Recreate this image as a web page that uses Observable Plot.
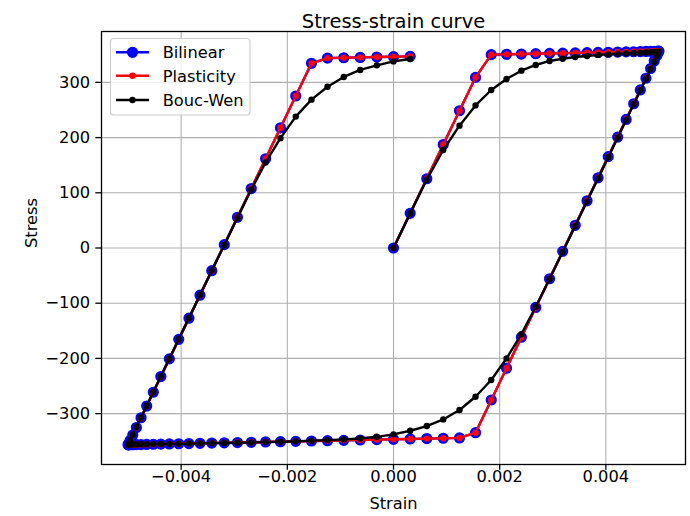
<!DOCTYPE html>
<html><head><meta charset="utf-8">
<script src="https://cdn.jsdelivr.net/npm/d3@7"></script>
<script src="https://cdn.jsdelivr.net/npm/@observablehq/plot@0.6"></script>
<style>
body{margin:0;background:#fff;}
#wrap{position:relative;width:690px;height:516px;font-family:"DejaVu Sans";}
#legend{position:absolute;left:0;top:0;pointer-events:none;}
</style></head><body><div id="wrap"></div>
<script>
const strain = [0, 0.000314, 0.000627, 0.000937, 0.001243, 0.001545, 0.001841, 0.002129, 0.002409, 0.002679, 0.002939, 0.003187, 0.003423, 0.003645, 0.003853, 0.004045, 0.004222, 0.004382, 0.004524, 0.004649, 0.004755, 0.004843, 0.004911, 0.004961, 0.004990, 0.005000,
 0.004990, 0.004961, 0.004911, 0.004843, 0.004755, 0.004649, 0.004524, 0.004382, 0.004222, 0.004045, 0.003853, 0.003645, 0.003423, 0.003187, 0.002939, 0.002679, 0.002409, 0.002129, 0.001841, 0.001545, 0.001243, 0.000937, 0.000627, 0.000314, 0,
 -0.000314, -0.000627, -0.000937, -0.001243, -0.001545, -0.001841, -0.002129, -0.002409, -0.002679, -0.002939, -0.003187, -0.003423, -0.003645, -0.003853, -0.004045, -0.004222, -0.004382, -0.004524, -0.004649, -0.004755, -0.004843, -0.004911, -0.004961, -0.004990, -0.005000,
 -0.004990, -0.004961, -0.004911, -0.004843, -0.004755, -0.004649, -0.004524, -0.004382, -0.004222, -0.004045, -0.003853, -0.003645, -0.003423, -0.003187, -0.002939, -0.002679, -0.002409, -0.002129, -0.001841, -0.001545, -0.001243, -0.000937, -0.000627, -0.000314, 0,
 0.000314];

const bilinear = [0, 62.8, 125.4, 187.4, 248.6, 309.0, 350.2, 350.8, 351.3, 351.9, 352.4, 352.9, 353.3, 353.8, 354.2, 354.6, 354.9, 355.3, 355.5, 355.8, 356.0, 356.2, 356.3, 356.4, 356.5, 356.5,
 354.5, 348.7, 338.7, 325.1, 307.5, 286.3, 261.3, 232.9, 200.9, 165.5, 127.1, 85.5, 41.1, -6.1, -55.7, -107.7, -161.7, -217.7, -275.3, -334.5, -344.0, -344.6, -345.2, -345.9, -346.5,
 -347.1, -347.8, -348.4, -349.0, -349.6, -350.2, -350.8, -351.3, -351.9, -352.4, -352.9, -353.3, -353.8, -354.2, -354.6, -354.9, -355.3, -355.5, -355.8, -356.0, -356.2, -356.3, -356.4, -356.5, -356.5,
 -354.5, -348.7, -338.7, -325.1, -307.5, -286.3, -261.3, -232.9, -200.9, -165.5, -127.1, -85.5, -41.1, 6.1, 55.7, 107.7, 161.7, 217.7, 275.3, 334.5, 344.0, 344.6, 345.2, 345.9, 346.5,
 347.1];

const plasticity = [0, 62.8, 125.4, 187.4, 248.6, 309.0, 350.2, 350.8, 351.3, 351.9, 352.4, 352.9, 353.3, 353.8, 354.2, 354.6, 354.9, 355.3, 355.5, 355.8, 356.0, 356.2, 356.3, 356.4, 356.5, 356.5,
 354.5, 348.7, 338.7, 325.1, 307.5, 286.3, 261.3, 232.9, 200.9, 165.5, 127.1, 85.5, 41.1, -6.1, -55.7, -107.7, -161.7, -217.7, -275.3, -334.5, -344.0, -344.6, -345.2, -345.9, -346.5,
 -347.1, -347.8, -348.4, -349.0, -349.6, -350.2, -350.8, -351.3, -351.9, -352.4, -352.9, -353.3, -353.8, -354.2, -354.6, -354.9, -355.3, -355.5, -355.8, -356.0, -356.2, -356.3, -356.4, -356.5, -356.5,
 -354.5, -348.7, -338.7, -325.1, -307.5, -286.3, -261.3, -232.9, -200.9, -165.5, -127.1, -85.5, -41.1, 6.1, 55.7, 107.7, 161.7, 217.7, 275.3, 334.5, 344.0, 344.6, 345.2, 345.9, 346.5,
 347.1];

const boucWen = [0, 62.7, 124.0, 177.5, 221.6, 258.3, 286.2, 306.0, 321.2, 331.5, 338.8, 342.8, 346.0, 347.8, 349.8, 350.7, 351.9, 352.6, 353.2, 353.7, 354.2, 354.6, 354.9, 355.2, 355.4, 355.5,
 353.5, 347.7, 337.7, 324.1, 306.5, 285.3, 260.3, 231.9, 199.9, 164.5, 126.1, 84.5, 40.1, -7.0, -56.0, -106.5, -156.0, -200.0, -239.0, -269.4, -293.5, -310.5, -322.5, -331.0, -337.5,
 -342.0, -345.0, -346.7, -348.0, -349.2, -350.2, -351.0, -351.6, -352.2, -352.7, -353.1, -353.5, -353.9, -354.2, -354.5, -354.8, -355.0, -355.2, -355.4, -355.6, -355.7, -355.8, -355.9, -356.0, -356.0,
 -354.0, -348.2, -338.2, -324.6, -307.0, -285.8, -260.8, -232.4, -200.4, -165.0, -126.6, -85.0, -40.6, 5.5, 55.0, 106.0, 155.0, 199.0, 238.0, 268.7, 292.0, 309.8, 322.5, 330.8, 338.0,
 342.4];

const xTicks = [-0.004, -0.002, 0, 0.002, 0.004];
const yTicks = [-300, -200, -100, 0, 100, 200, 300];
const seriesNames = ["Bilinear", "Plasticity", "Bouc-Wen"];
const seriesColors = ["#0000ff", "#ff0000", "#000000"];
const titleText = "Stress-strain curve";
const xLabel = "Strain";
const yLabel = "Stress";

const rows = strain.map((s, i) => ({strain: s, bilinear: bilinear[i], plasticity: plasticity[i], boucWen: boucWen[i]}));
const fmtX = d3.format(".3f");
const fmtY = d3.format("d");

const gridStyle = {stroke: "#b0b0b0", strokeOpacity: 1, strokeWidth: 1.1};
const lineStyle = {strokeWidth: 2.4, strokeLinejoin: "round"};

const chart = Plot.plot({
  width: 690, height: 516,
  marginLeft: 101, marginRight: 5, marginTop: 31, marginBottom: 52,
  style: {fontFamily: "DejaVu Sans", fontSize: "16.25px", background: "#fff", color: "#000", overflow: "visible"},
  x: {domain: [-0.0055, 0.0055]},
  y: {domain: [-392.15, 392.15]},
  marks: [
    Plot.gridX(xTicks, gridStyle),
    Plot.gridY(yTicks, gridStyle),
    Plot.line(rows, {x: "strain", y: "bilinear", stroke: seriesColors[0], ...lineStyle}),
    Plot.dot(rows, {x: "strain", y: "bilinear", r: 4.8, fill: seriesColors[0], stroke: seriesColors[0], strokeWidth: 1.6}),
    Plot.line(rows, {x: "strain", y: "plasticity", stroke: seriesColors[1], ...lineStyle}),
    Plot.dot(rows, {x: "strain", y: "plasticity", r: 2.4, fill: seriesColors[1], stroke: seriesColors[1], strokeWidth: 1.6}),
    Plot.line(rows, {x: "strain", y: "boucWen", stroke: seriesColors[2], ...lineStyle}),
    Plot.dot(rows, {x: "strain", y: "boucWen", r: 2.4, fill: seriesColors[2], stroke: seriesColors[2], strokeWidth: 1.6}),
    Plot.frame({stroke: "#000", strokeWidth: 1.3}),
    Plot.axisX(xTicks, {tickSize: 5.7, tickPadding: 0, tickFormat: fmtX, label: null, strokeWidth: 1.3, fontSize: 16.25}),
    Plot.axisY(yTicks, {tickSize: 5.7, tickPadding: 5.7, tickFormat: fmtY, label: null, strokeWidth: 1.3, fontSize: 16.25}),
    Plot.text([titleText], {frameAnchor: "top", dy: -17, fontSize: 19.5}),
    Plot.text([xLabel], {frameAnchor: "bottom", dy: 44, fontSize: 16.25}),
    Plot.text([yLabel], {frameAnchor: "left", dx: -70, rotate: -90, fontSize: 16.25})
  ]
});
const wrap = document.getElementById("wrap");
wrap.appendChild(chart);

// legend (upper left, matplotlib style)
const ns = "http://www.w3.org/2000/svg";
const lg = document.createElementNS(ns, "svg");
lg.setAttribute("id", "legend");
lg.setAttribute("width", 690);
lg.setAttribute("height", 516);
const rowsY = [52.3, 75.7, 100];
const markerR = [4.8, 2.4, 2.4];
let html = `<rect x="110.5" y="38.5" width="139.5" height="76.5" rx="3" fill="#fff" fill-opacity="0.8" stroke="#cccccc" stroke-width="1.1"/>`;
seriesNames.forEach((name, i) => {
  const y = rowsY[i];
  html += `<line x1="116" x2="149" y1="${y}" y2="${y}" stroke="${seriesColors[i]}" stroke-width="2.4"/>`;
  html += `<circle cx="132.5" cy="${y}" r="${markerR[i]}" fill="${seriesColors[i]}" stroke="${seriesColors[i]}" stroke-width="1.6"/>`;
  html += `<text x="162.7" y="${y}" dy="0.36em" font-family="DejaVu Sans" font-size="16.25" fill="#000">${name}</text>`;
});
lg.innerHTML = html;
wrap.appendChild(lg);
</script></body></html>
